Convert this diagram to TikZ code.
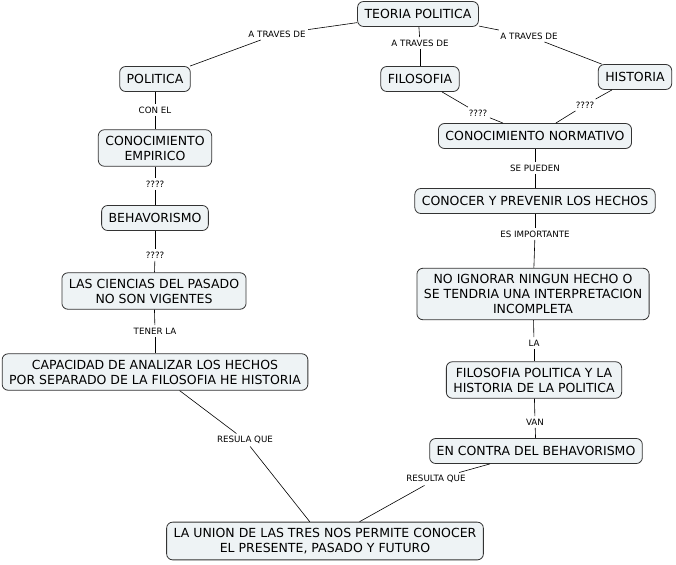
\documentclass[tikz,border=0pt]{standalone}
\usepackage{fontspec}
\setmainfont{DejaVu Sans}
\definecolor{nodefill}{HTML}{EEF3F5}
\definecolor{nodeline}{HTML}{333333}
\begin{document}
\begin{tikzpicture}[x=1pt,y=-1pt,
  concept/.style={draw=nodeline,fill=nodefill,rounded corners=6pt,line width=0.8pt,
    font=\fontsize{12.5}{15}\selectfont,align=center,inner xsep=7pt,inner ysep=6pt,minimum height=25pt},
  lbl/.style={font=\fontsize{8.7}{10}\selectfont,inner sep=2.5pt},
  link/.style={draw=black,line width=0.6pt}]
\useasboundingbox (0,0) rectangle (676,564);
% concepts
\node[concept] (teo) at (418,14) {TEORIA POLITICA};
\node[concept] (pol) at (155,79) {POLITICA};
\node[concept] (fil) at (420,79) {FILOSOFIA};
\node[concept] (his) at (635,77) {HISTORIA};
\node[concept] (norm) at (535,136) {CONOCIMIENTO NORMATIVO};
\node[concept] (emp) at (155,148) {CONOCIMIENTO\\EMPIRICO};
\node[concept] (beh) at (155,218) {BEHAVORISMO};
\node[concept] (cie) at (154,291) {LAS CIENCIAS DEL PASADO\\NO SON VIGENTES};
\node[concept] (cap) at (155,372) {CAPACIDAD DE ANALIZAR LOS HECHOS\\POR SEPARADO DE LA FILOSOFIA HE HISTORIA};
\node[concept] (con) at (535,201) {CONOCER Y PREVENIR LOS HECHOS};
\node[concept] (ign) at (533,294) {NO IGNORAR NINGUN HECHO O\\SE TENDRIA UNA INTERPRETACION\\INCOMPLETA};
\node[concept] (fpo) at (534,380) {FILOSOFIA POLITICA Y LA\\HISTORIA DE LA POLITICA};
\node[concept] (ecb) at (536,451) {EN CONTRA DEL BEHAVORISMO};
\node[concept] (uni) at (325,541) {LA UNION DE LAS TRES NOS PERMITE CONOCER\\EL PRESENTE, PASADO Y FUTURO};
% labels
\node[lbl] (l1) at (277,34) {A TRAVES DE};
\node[lbl] (l2) at (420,43) {A TRAVES DE};
\node[lbl] (l3) at (529,36) {A TRAVES DE};
\node[lbl] (l4) at (155,110) {CON EL};
\node[lbl] (l5) at (155,184) {????};
\node[lbl] (l6) at (155,255) {????};
\node[lbl] (l7) at (155,331) {TENER LA};
\node[lbl] (l8) at (245,440) {RESULA QUE};
\node[lbl] (l9) at (478,113) {????};
\node[lbl] (l10) at (585,105) {????};
\node[lbl] (l11) at (535,168) {SE PUEDEN};
\node[lbl] (l12) at (535,234) {ES IMPORTANTE};
\node[lbl] (l13) at (534,343) {LA};
\node[lbl] (l14) at (535,422) {VAN};
\node[lbl] (l15) at (436,479) {RESULTA QUE};
% connectors
\draw[link] (teo) -- (l1); \draw[link] (l1) -- (pol);
\draw[link] (teo) -- (l2); \draw[link] (l2) -- (fil);
\draw[link] (teo) -- (l3); \draw[link] (l3) -- (his);
\draw[link] (pol) -- (l4); \draw[link] (l4) -- (emp);
\draw[link] (emp) -- (l5); \draw[link] (l5) -- (beh);
\draw[link] (beh) -- (l6); \draw[link] (l6) -- (cie);
\draw[link] (cie) -- (l7); \draw[link] (l7) -- (cap);
\draw[link] (cap) -- (l8); \draw[link] (l8) -- (uni);
\draw[link] (fil) -- (l9); \draw[link] (l9) -- (norm);
\draw[link] (his) -- (l10); \draw[link] (l10) -- (norm);
\draw[link] (norm) -- (l11); \draw[link] (l11) -- (con);
\draw[link] (con) -- (l12); \draw[link] (l12) -- (ign);
\draw[link] (ign) -- (l13); \draw[link] (l13) -- (fpo);
\draw[link] (fpo) -- (l14); \draw[link] (l14) -- (ecb);
\draw[link] (ecb) -- (l15); \draw[link] (l15) -- (uni);
\end{tikzpicture}
\end{document}
